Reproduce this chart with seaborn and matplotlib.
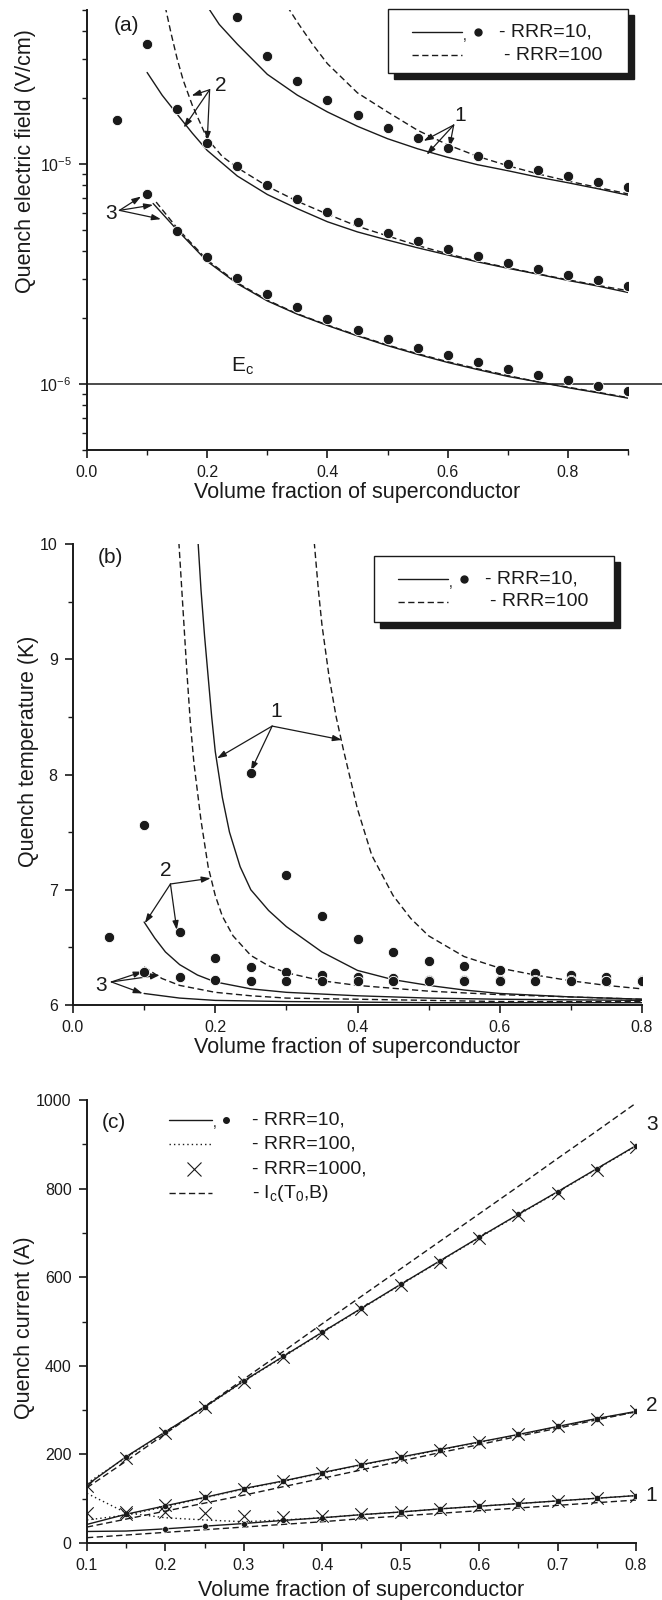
import matplotlib
matplotlib.use("Agg")
import matplotlib.pyplot as plt
import seaborn as sns
from matplotlib.patches import Rectangle
from matplotlib.lines import Line2D
from matplotlib.ticker import MultipleLocator, LogLocator, NullFormatter, FormatStrFormatter

# ---------------- panel (a): quench electric field ----------------
a_dot1_x = [0.25, 0.30, 0.35, 0.40, 0.45, 0.50, 0.55, 0.60, 0.65, 0.70, 0.75, 0.80, 0.85, 0.90]
a_dot1_y = [4.67e-5, 3.08e-5, 2.37e-5, 1.94e-5, 1.66e-5, 1.46e-5, 1.31e-5, 1.18e-5, 1.09e-5,
            1.00e-5, 9.35e-6, 8.78e-6, 8.27e-6, 7.82e-6]
a_dot2_x = [0.05, 0.10, 0.15, 0.20, 0.25, 0.30, 0.35, 0.40, 0.45, 0.50, 0.55, 0.60, 0.65, 0.70,
            0.75, 0.80, 0.85, 0.90]
a_dot2_y = [1.58e-5, 3.50e-5, 1.77e-5, 1.24e-5, 9.76e-6, 8.04e-6, 6.92e-6, 6.05e-6, 5.41e-6,
            4.86e-6, 4.47e-6, 4.11e-6, 3.80e-6, 3.55e-6, 3.33e-6, 3.13e-6, 2.95e-6, 2.79e-6]
a_dot3_x = [0.10, 0.15, 0.20, 0.25, 0.30, 0.35, 0.40, 0.45, 0.50, 0.55, 0.60, 0.65, 0.70, 0.75,
            0.80, 0.85, 0.90]
a_dot3_y = [7.31e-6, 4.95e-6, 3.75e-6, 3.04e-6, 2.57e-6, 2.23e-6, 1.96e-6, 1.75e-6, 1.60e-6,
            1.46e-6, 1.35e-6, 1.26e-6, 1.17e-6, 1.10e-6, 1.04e-6, 9.82e-7, 9.31e-7]

a_sol1_x = [0.20, 0.22, 0.25, 0.30, 0.35, 0.40, 0.45, 0.50, 0.55, 0.60, 0.65, 0.70, 0.75, 0.80, 0.85, 0.90]
a_sol1_y = [5.2e-5, 4.3e-5, 3.5e-5, 2.55e-5, 2.05e-5, 1.72e-5, 1.48e-5, 1.30e-5, 1.17e-5, 1.07e-5,
            9.9e-6, 9.3e-6, 8.7e-6, 8.2e-6, 7.7e-6, 7.2e-6]
a_das1_x = [0.333, 0.35, 0.375, 0.40, 0.45, 0.50, 0.55, 0.60, 0.65, 0.70, 0.75, 0.80, 0.85, 0.90]
a_das1_y = [5.2e-5, 4.4e-5, 3.5e-5, 2.85e-5, 2.1e-5, 1.72e-5, 1.42e-5, 1.22e-5, 1.08e-5, 9.8e-6,
            9.0e-6, 8.35e-6, 7.8e-6, 7.3e-6]
a_sol2_x = [0.10, 0.125, 0.15, 0.175, 0.20, 0.25, 0.30, 0.35, 0.40, 0.45, 0.50, 0.55, 0.60, 0.65,
            0.70, 0.75, 0.80, 0.85, 0.90]
a_sol2_y = [2.6e-5, 2.05e-5, 1.68e-5, 1.38e-5, 1.15e-5, 8.8e-6, 7.25e-6, 6.25e-6, 5.45e-6, 4.9e-6,
            4.5e-6, 4.15e-6, 3.85e-6, 3.58e-6, 3.35e-6, 3.15e-6, 2.95e-6, 2.78e-6, 2.6e-6]
a_das2_x = [0.13, 0.14, 0.15, 0.16, 0.175, 0.20, 0.225, 0.25, 0.30, 0.35, 0.40, 0.45, 0.50, 0.55,
            0.60, 0.65, 0.70, 0.75, 0.80, 0.85, 0.90]
a_das2_y = [5.2e-5, 3.9e-5, 3.0e-5, 2.4e-5, 1.85e-5, 1.3e-5, 1.08e-5, 9.6e-6, 7.9e-6, 6.75e-6, 5.9e-6,
            5.2e-6, 4.7e-6, 4.25e-6, 3.9e-6, 3.6e-6, 3.37e-6, 3.16e-6, 2.97e-6, 2.8e-6, 2.65e-6]
a_sol3_x = [0.11, 0.15, 0.20, 0.25, 0.30, 0.35, 0.40, 0.45, 0.50, 0.55, 0.60, 0.65, 0.70, 0.75,
            0.80, 0.85, 0.90]
a_sol3_y = [6.6e-6, 5.0e-6, 3.6e-6, 2.85e-6, 2.38e-6, 2.07e-6, 1.84e-6, 1.65e-6, 1.49e-6, 1.36e-6,
            1.25e-6, 1.16e-6, 1.08e-6, 1.02e-6, 9.6e-7, 9.1e-7, 8.6e-7]
a_das3_x = [0.115, 0.15, 0.20, 0.25, 0.30, 0.35, 0.40, 0.45, 0.50, 0.55, 0.60, 0.65, 0.70, 0.75,
            0.80, 0.85, 0.90]
a_das3_y = [6.7e-6, 5.1e-6, 3.65e-6, 2.88e-6, 2.4e-6, 2.08e-6, 1.85e-6, 1.66e-6, 1.5e-6, 1.37e-6,
            1.26e-6, 1.17e-6, 1.09e-6, 1.02e-6, 9.65e-7, 9.15e-7, 8.65e-7]
a_ec_x = [0.0, 0.96]
a_ec_y = [1e-6, 1e-6]

# ---------------- panel (b): quench temperature ----------------
b_dot1_x = [0.25, 0.30, 0.35, 0.40, 0.45, 0.50, 0.55, 0.60, 0.65, 0.70, 0.75, 0.80]
b_dot1_y = [8.01, 7.13, 6.77, 6.57, 6.46, 6.38, 6.34, 6.30, 6.28, 6.26, 6.24, 6.22]
b_dot2_x = [0.05, 0.10, 0.15, 0.20, 0.25, 0.30, 0.35, 0.40, 0.45, 0.50, 0.55, 0.60, 0.65, 0.70, 0.75, 0.80]
b_dot2_y = [6.59, 7.56, 6.63, 6.41, 6.33, 6.29, 6.26, 6.24, 6.23, 6.22, 6.22, 6.22, 6.22, 6.22, 6.21, 6.21]
b_dot3_x = [0.10, 0.15, 0.20, 0.25, 0.30, 0.35, 0.40, 0.45, 0.50, 0.55, 0.60, 0.65, 0.70, 0.75, 0.80]
b_dot3_y = [6.29, 6.24, 6.22, 6.21, 6.21, 6.21, 6.21, 6.21, 6.21, 6.21, 6.21, 6.21, 6.21, 6.21, 6.21]

b_sol1_x = [0.175, 0.18, 0.185, 0.19, 0.195, 0.20, 0.21, 0.22, 0.235, 0.25, 0.275, 0.30, 0.35, 0.40,
            0.45, 0.50, 0.55, 0.60, 0.70, 0.80]
b_sol1_y = [10.1, 9.6, 9.2, 8.85, 8.5, 8.2, 7.8, 7.5, 7.2, 7.0, 6.82, 6.68, 6.46, 6.3, 6.22, 6.17,
            6.13, 6.1, 6.07, 6.05]
b_das1_x = [0.338, 0.345, 0.35, 0.36, 0.37, 0.38, 0.40, 0.42, 0.45, 0.475, 0.50, 0.55, 0.60, 0.65,
            0.70, 0.75, 0.80]
b_das1_y = [10.1, 9.6, 9.3, 8.85, 8.5, 8.22, 7.7, 7.3, 6.95, 6.75, 6.6, 6.42, 6.32, 6.26, 6.21,
            6.17, 6.14]
b_sol2_x = [0.10, 0.115, 0.13, 0.15, 0.175, 0.20, 0.25, 0.30, 0.40, 0.50, 0.60, 0.80]
b_sol2_y = [6.72, 6.58, 6.46, 6.35, 6.26, 6.2, 6.14, 6.11, 6.08, 6.06, 6.05, 6.04]
b_das2_x = [0.148, 0.155, 0.16, 0.165, 0.17, 0.18, 0.19, 0.20, 0.21, 0.225, 0.25, 0.275, 0.30, 0.35,
            0.40, 0.50, 0.60, 0.70, 0.80]
b_das2_y = [10.1, 9.4, 8.9, 8.45, 8.1, 7.6, 7.2, 6.95, 6.77, 6.6, 6.43, 6.34, 6.28, 6.21, 6.17, 6.12,
            6.09, 6.07, 6.05]
b_sol3_x = [0.10, 0.15, 0.20, 0.30, 0.50, 0.80]
b_sol3_y = [6.10, 6.06, 6.04, 6.03, 6.02, 6.02]
b_das3_x = [0.10, 0.125, 0.15, 0.20, 0.25, 0.30, 0.40, 0.60, 0.80]
b_das3_y = [6.33, 6.23, 6.17, 6.11, 6.08, 6.06, 6.05, 6.03, 6.03]

# ---------------- panel (c): quench current ----------------
c_x = [0.10, 0.15, 0.20, 0.25, 0.30, 0.35, 0.40, 0.45, 0.50, 0.55, 0.60, 0.65, 0.70, 0.75, 0.80]
c_sol3 = [131, 195, 251, 307, 366, 421, 476, 530, 584, 637, 690, 742, 793, 845, 897]
c_dot3 = [135, 193, 250, 306, 365, 420, 475, 529, 583, 636, 689, 741, 792, 844, 896]
c_ic3 = [125, 185, 247, 308, 370, 432, 495, 557, 619, 681, 743, 805, 868, 930, 993]
c_sol2 = [42, 65, 84, 103, 123, 140, 159, 177, 194, 211, 228, 245, 263, 281, 297]
c_dot2 = [52, 63, 82, 102, 122, 139, 158, 176, 193, 210, 227, 244, 262, 280, 296]
c_ic2 = [36, 54, 72, 90, 108, 127, 146, 165, 185, 204, 222, 241, 259, 278, 296]
c_sol1 = [26, 27, 32, 38, 44, 51, 57, 64, 70, 77, 83, 89, 95, 101, 107]
c_dot1 = [112, 68, 57, 52, 48, 52, 57, 64, 70, 77, 83, 89, 95, 101, 107]
c_ic1 = [12, 18, 24, 30, 36, 42, 48, 55, 61, 67, 73, 79, 85, 91, 97]
c_m10_3_x = c_x[1:]
c_m10_3 = c_sol3[1:]
c_m10_2_x = c_x[1:]
c_m10_2 = c_sol2[1:]
c_m10_1_x = c_x[2:]
c_m10_1 = c_sol1[2:]
c_m1000_3 = [128, 193, 249, 306, 364, 419, 474, 529, 582, 635, 688, 740, 791, 843, 895]
c_m1000_2_x = c_x[1:]
c_m1000_2 = [66, 86, 104, 123, 141, 159, 177, 194, 211, 228, 245, 263, 281, 297]
c_m1000_1 = [68, 70, 71, 67, 60, 58, 60, 65, 71, 77, 83, 89, 95, 101, 107]

# ---------------- style ----------------
sns.set_theme(style="ticks")
plt.rcParams.update({
    "axes.linewidth": 1.4,
    "xtick.major.width": 1.2, "ytick.major.width": 1.2,
    "xtick.minor.width": 1.0, "ytick.minor.width": 1.0,
    "xtick.major.size": 6, "ytick.major.size": 6,
    "xtick.minor.size": 3.5, "ytick.minor.size": 3.5,
    "xtick.direction": "out", "ytick.direction": "out",
    "xtick.labelsize": 11.5, "ytick.labelsize": 11.5,
    "xtick.color": "k", "ytick.color": "k",
    "axes.edgecolor": "k", "axes.labelcolor": "k", "text.color": "k",
    "mathtext.fontset": "custom",
    "mathtext.rm": "Liberation Sans",
    "mathtext.it": "Liberation Sans:italic",
    "mathtext.bf": "Liberation Sans:bold",
    "mathtext.default": "regular",
})
plt.rcParams["font.family"] = ["Liberation Sans", "DejaVu Sans"]

W, H = 662, 1600
fig = plt.figure(figsize=(W / 100, H / 100), dpi=100)
LABEL_FS = 15.5


def add_axes_px(left, top, right, bottom):
    return fig.add_axes([left / W, 1 - bottom / H, (right - left) / W, (bottom - top) / H])


def curve(ax, x, y, ls="-", lw=1.0, **kw):
    sns.lineplot(x=x, y=y, ax=ax, color="k", linewidth=lw, linestyle=ls, sort=False,
                 estimator=None, legend=False, **kw)


def dots(ax, x, y, s=55, marker="o", **kw):
    sns.scatterplot(x=x, y=y, ax=ax, color="k", s=s, marker=marker, legend=False, zorder=4, **kw)


def arrow(ax, tail, head):
    ax.annotate("", xy=head, xytext=tail,
                arrowprops=dict(arrowstyle="-|>,head_length=0.45,head_width=0.15", color="k",
                                lw=0.9, shrinkA=0, shrinkB=0))


def style_axes(ax):
    sns.despine(ax=ax)
    ax.spines["left"].set_linewidth(1.4)
    ax.spines["bottom"].set_linewidth(1.4)
    ax.tick_params(which="both", pad=5)


def fpx(x, y):
    return x / W, 1 - y / H


def shadow_legend(left, top, w, h, rows):
    sx, sy = fpx(left + 6, top + h + 6)
    fig.patches.append(Rectangle((sx, sy), w / W, h / H, transform=fig.transFigure,
                                 facecolor="k", edgecolor="k", zorder=5))
    bx, by = fpx(left, top + h)
    fig.patches.append(Rectangle((bx, by), w / W, h / H, transform=fig.transFigure,
                                 facecolor="white", edgecolor="k", lw=1.0, zorder=6))
    for dy, ls, with_dot, label, tx in rows:
        yy = 1 - (top + dy) / H
        fig.add_artist(Line2D([(left + 24) / W, (left + 74) / W], [yy, yy], transform=fig.transFigure,
                              color="k", lw=1.0, linestyle=ls, zorder=7))
        if with_dot:
            fig.text((left + 75) / W, yy - 4 / H, ",", fontsize=10, ha="left", va="center", zorder=7)
            fig.add_artist(Line2D([(left + 90) / W], [yy], transform=fig.transFigure, marker="o",
                                  color="k", markersize=5, linestyle="none", zorder=7))
        fig.text((left + tx) / W, yy, label, fontsize=14, ha="left", va="center", zorder=7)


DASH = (0, (4.5, 2.5))

# ================= panel (a) =================
ax = add_axes_px(87, 10, 628, 450)
ax.set_yscale("log")
ax.set_xlim(0, 0.9)
ax.set_ylim(5e-7, 5e-5)
curve(ax, a_sol1_x, a_sol1_y)
curve(ax, a_das1_x, a_das1_y, ls=DASH)
curve(ax, a_sol2_x, a_sol2_y)
curve(ax, a_das2_x, a_das2_y, ls=DASH)
curve(ax, a_sol3_x, a_sol3_y)
curve(ax, a_das3_x, a_das3_y, ls=DASH)
curve(ax, a_ec_x, a_ec_y, lw=1.1, clip_on=False)
dots(ax, a_dot1_x, a_dot1_y)
dots(ax, a_dot2_x, a_dot2_y)
dots(ax, a_dot3_x, a_dot3_y)
ax.text(0.259, 1.2e-6, "$E_c$", fontsize=15, ha="center", va="center")
ax.text(0.62, 1.65e-5, "1", fontsize=15, ha="center", va="center")
arrow(ax, (0.61, 1.5e-5), (0.56, 1.27e-5))
arrow(ax, (0.61, 1.5e-5), (0.565, 1.1e-5))
arrow(ax, (0.61, 1.5e-5), (0.603, 1.19e-5))
ax.text(0.222, 2.28e-5, "2", fontsize=15, ha="center", va="center")
arrow(ax, (0.204, 2.17e-5), (0.174, 2.04e-5))
arrow(ax, (0.204, 2.17e-5), (0.161, 1.46e-5))
arrow(ax, (0.204, 2.17e-5), (0.2, 1.27e-5))
ax.text(0.04, 5.97e-6, "3", fontsize=15, ha="center", va="center")
arrow(ax, (0.054, 6.14e-6), (0.09, 7.1e-6))
arrow(ax, (0.054, 6.14e-6), (0.11, 6.5e-6))
arrow(ax, (0.054, 6.14e-6), (0.123, 5.6e-6))
ax.text(0.05, 0.965, "(a)", transform=ax.transAxes, fontsize=15, ha="left", va="center")
ax.xaxis.set_major_locator(MultipleLocator(0.2))
ax.xaxis.set_minor_locator(MultipleLocator(0.1))
ax.xaxis.set_major_formatter(FormatStrFormatter("%.1f"))
ax.yaxis.set_major_locator(LogLocator(base=10, numticks=10))
ax.yaxis.set_minor_locator(LogLocator(base=10, subs=range(2, 10), numticks=20))
ax.yaxis.set_minor_formatter(NullFormatter())
style_axes(ax)
ax.set_xlabel("Volume fraction of superconductor", fontsize=LABEL_FS)
ax.set_ylabel("Quench electric field (V/cm)", fontsize=LABEL_FS)
ax.xaxis.set_label_coords(0.5, -0.073)
ax.yaxis.set_label_coords(-0.094, 0.657)

# ================= panel (b) =================
ax = add_axes_px(73, 544, 642, 1005)
ax.set_xlim(0, 0.8)
ax.set_ylim(6, 10)
curve(ax, b_sol1_x, b_sol1_y)
curve(ax, b_das1_x, b_das1_y, ls=DASH)
curve(ax, b_sol2_x, b_sol2_y)
curve(ax, b_das2_x, b_das2_y, ls=DASH)
curve(ax, b_sol3_x, b_sol3_y)
curve(ax, b_das3_x, b_das3_y, ls=DASH)
dots(ax, b_dot1_x, b_dot1_y)
dots(ax, b_dot2_x, b_dot2_y)
dots(ax, b_dot3_x, b_dot3_y)
ax.text(0.286, 8.55, "1", fontsize=15, ha="center", va="center")
arrow(ax, (0.28, 8.42), (0.2025, 8.14))
arrow(ax, (0.28, 8.42), (0.25, 8.03))
arrow(ax, (0.28, 8.42), (0.378, 8.30))
ax.text(0.131, 7.17, "2", fontsize=15, ha="center", va="center")
arrow(ax, (0.137, 7.05), (0.1936, 7.10))
arrow(ax, (0.137, 7.05), (0.101, 6.71))
arrow(ax, (0.137, 7.05), (0.146, 6.65))
ax.text(0.039, 6.17, "3", fontsize=15, ha="center", va="center")
arrow(ax, (0.054, 6.2), (0.098, 6.29))
arrow(ax, (0.054, 6.2), (0.122, 6.26))
arrow(ax, (0.054, 6.2), (0.098, 6.10))
ax.text(0.035, 9.88, "(b)", fontsize=15, ha="left", va="center")
ax.xaxis.set_major_locator(MultipleLocator(0.2))
ax.xaxis.set_minor_locator(MultipleLocator(0.1))
ax.xaxis.set_major_formatter(FormatStrFormatter("%.1f"))
ax.yaxis.set_major_locator(MultipleLocator(1))
ax.yaxis.set_minor_locator(MultipleLocator(0.5))
style_axes(ax)
ax.set_xlabel("Volume fraction of superconductor", fontsize=LABEL_FS)
ax.set_ylabel("Quench temperature (K)", fontsize=LABEL_FS)
ax.xaxis.set_label_coords(0.5, -0.069)
ax.yaxis.set_label_coords(-0.06, 0.55)

# ================= panel (c) =================
ax = add_axes_px(87, 1100, 636, 1543)
ax.set_xlim(0.1, 0.8)
ax.set_ylim(0, 1000)
for ys in (c_sol3, c_sol2, c_sol1):
    curve(ax, c_x, ys, lw=1.0)
for ys in (c_dot3, c_dot2, c_dot1):
    curve(ax, c_x, ys, ls=(0, (1, 2.2)), lw=1.0)
for ys in (c_ic3, c_ic2, c_ic1):
    curve(ax, c_x, ys, ls=DASH, lw=1.0)
dots(ax, c_m10_3_x, c_m10_3, s=18)
dots(ax, c_m10_2_x, c_m10_2, s=18)
dots(ax, c_m10_1_x, c_m10_1, s=18)
dots(ax, c_x, c_m1000_3, s=80, marker="x", linewidth=0.8)
dots(ax, c_m1000_2_x, c_m1000_2, s=80, marker="x", linewidth=0.8)
dots(ax, c_x, c_m1000_1, s=80, marker="x", linewidth=0.8)
for lab, yv in (("3", 945), ("2", 310), ("1", 107)):
    ax.text(0.82, yv, lab, fontsize=15, ha="center", va="center", clip_on=False)
ax.text(0.134, 950, "(c)", fontsize=15, ha="center", va="center")
leg_rows = [(955, "-", True, "- RRR=10,"), (901, (0, (1, 2.2)), False, "- RRR=100,"),
            (845, None, False, "- RRR=1000,"), (789, DASH, False, "- I$_c$(T$_0$,B)")]
for yv, ls, with_dot, label in leg_rows:
    if ls is not None:
        ax.plot([0.204, 0.259], [yv, yv], color="k", lw=1.0, linestyle=ls)
    else:
        ax.plot([0.2365], [yv], marker="x", color="k", markersize=10, mew=0.8, linestyle="none")
    if with_dot:
        ax.text(0.261, yv - 8, ",", fontsize=10, ha="left", va="center")
        ax.plot([0.277], [yv], marker="o", color="k", markersize=4, linestyle="none")
    ax.text(0.31, yv, label, fontsize=14, ha="left", va="center")
ax.xaxis.set_major_locator(MultipleLocator(0.1))
ax.xaxis.set_minor_locator(MultipleLocator(0.05))
ax.xaxis.set_major_formatter(FormatStrFormatter("%.1f"))
ax.yaxis.set_major_locator(MultipleLocator(200))
ax.yaxis.set_minor_locator(MultipleLocator(100))
style_axes(ax)
ax.set_xlabel("Volume fraction of superconductor", fontsize=LABEL_FS)
ax.set_ylabel("Quench current (A)", fontsize=LABEL_FS)
ax.xaxis.set_label_coords(0.5, -0.083)
ax.yaxis.set_label_coords(-0.094, 0.485)

# boxed legends with drop shadow for panels (a) and (b)
shadow_legend(388, 9, 240, 64, [(23, "-", True, "- RRR=10,", 111), (46, DASH, False, "- RRR=100", 116)])
shadow_legend(374, 556, 240, 66, [(23, "-", True, "- RRR=10,", 111), (46, DASH, False, "- RRR=100", 116)])

fig.savefig("out.png", dpi=100, facecolor="white")
